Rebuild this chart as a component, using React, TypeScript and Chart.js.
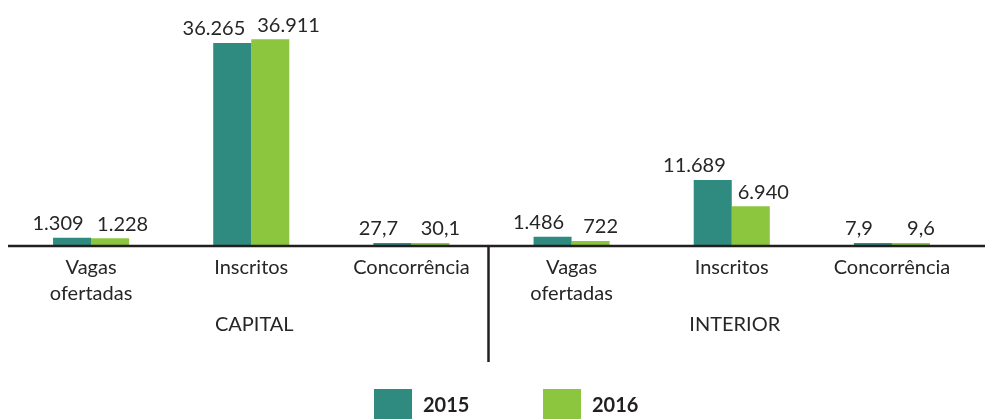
import React, { useEffect, useRef } from "react";
import { Chart, registerables } from "chart.js";

Chart.register(...registerables);

const categories: string[][] = [
  ["Vagas", "ofertadas"],
  ["Inscritos"],
  ["Concorrência"],
  ["Vagas", "ofertadas"],
  ["Inscritos"],
  ["Concorrência"],
];
const groups = ["CAPITAL", "INTERIOR"];
const series2015 = [1309, 36265, 27.7, 1486, 11689, 7.9];
const series2016 = [1228, 36911, 30.1, 722, 6940, 9.6];
const seriesNames = ["2015", "2016"];
const colors = ["#2f8a80", "#8cc63e"];

const FONT = "Lato, 'Noto Sans', sans-serif";
const TEXT = "#262626";

function fmt(v: number): string {
  if (Number.isInteger(v)) {
    return String(v).replace(/\B(?=(\d{3})+(?!\d))/g, ".");
  }
  return v.toFixed(1).replace(".", ",");
}

const decorPlugin = {
  id: "decor",
  afterDatasetsDraw(chart: any) {
    const ctx = chart.ctx;
    const x = chart.scales.x;
    const area = chart.chartArea;
    ctx.save();
    // value labels
    ctx.font = `20px ${FONT}`;
    ctx.fillStyle = TEXT;
    ctx.textAlign = "center";
    ctx.textBaseline = "middle";
    chart.data.datasets.forEach((ds: any, di: number) => {
      const meta = chart.getDatasetMeta(di);
      meta.data.forEach((bar: any, i: number) => {
        const txt = fmt(ds.data[i]);
        const w = ctx.measureText(txt).width;
        const cx = x.getPixelForValue(i);
        let px = bar.x + (di === 0 ? -14 : 10);
        if (di === 0) px = Math.min(px, cx - 6 - w / 2);
        else px = Math.max(px, cx + 6 + w / 2);
        ctx.fillText(txt, px, bar.y - 14);
      });
    });
    // axis line
    const base = area.bottom + 1;
    ctx.strokeStyle = "#231f20";
    ctx.lineWidth = 2.5;
    ctx.beginPath();
    ctx.moveTo(8, base);
    ctx.lineTo(chart.width, base);
    ctx.stroke();
    // separator
    const sep = (x.getPixelForValue(2) + x.getPixelForValue(3)) / 2 - 3;
    ctx.beginPath();
    ctx.moveTo(sep, base);
    ctx.lineTo(sep, 362);
    ctx.stroke();
    // category labels
    ctx.font = `20px ${FONT}`;
    ctx.fillStyle = TEXT;
    categories.forEach((lines, i) => {
      const cx = x.getPixelForValue(i);
      lines.forEach((ln, li) => {
        ctx.fillText(ln, cx, base + 22 + li * 26);
      });
    });
    // group labels
    groups.forEach((g, gi) => {
      const cx = x.getPixelForValue(gi * 3 + 1) + 3;
      ctx.fillText(g, cx, base + 79);
    });
    // legend
    ctx.font = `bold 20px ${FONT}`;
    ctx.textAlign = "left";
    const lx = [374, 543];
    seriesNames.forEach((n, i) => {
      ctx.fillStyle = colors[i];
      ctx.fillRect(lx[i], 389, 38, 30);
      ctx.fillStyle = "#231f20";
      ctx.fillText(n, lx[i] + 49, 406);
    });
    ctx.restore();
  },
};

export default function App() {
  const ref = useRef<HTMLCanvasElement | null>(null);
  useEffect(() => {
    if (!ref.current) return;
    const chart = new Chart(ref.current, {
      type: "bar",
      data: {
        labels: categories.map((c) => c.join(" ")),
        datasets: [
          { label: seriesNames[0], data: series2015, backgroundColor: colors[0] },
          { label: seriesNames[1], data: series2016, backgroundColor: colors[1] },
        ],
      },
      options: {
        animation: false,
        responsive: false,
        maintainAspectRatio: false,
        layout: { padding: { left: 11, right: 13, top: 11, bottom: 174 } },
        datasets: {
          bar: {
            barPercentage: 1,
            categoryPercentage: 0.475,
            minBarLength: 2,
          },
        },
        scales: {
          x: { display: false },
          y: { display: false, min: 0, max: 42000 },
        },
        plugins: {
          legend: { display: false },
          tooltip: { enabled: false },
        },
      },
      plugins: [decorPlugin],
    });
    return () => chart.destroy();
  }, []);
  return (
    <div style={{ position: "absolute", left: 0, top: 0, width: 985, height: 419, background: "#fff" }}>
      <canvas ref={ref} width={985} height={419} style={{ width: 985, height: 419 }} />
    </div>
  );
}
